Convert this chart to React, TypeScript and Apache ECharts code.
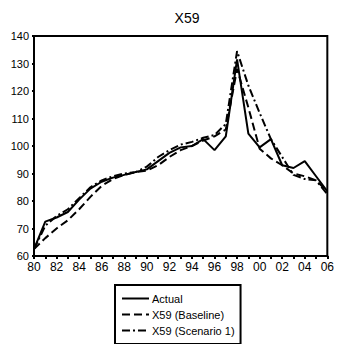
import React, { useEffect, useRef } from "react";
import * as echarts from "echarts";

const years = [
  "1980","1981","1982","1983","1984","1985","1986","1987","1988","1989",
  "1990","1991","1992","1993","1994","1995","1996","1997","1998","1999",
  "2000","2001","2002","2003","2004","2005","2006",
];
const actual = [
  62.5, 72.5, 74, 76, 80.5, 84.5, 87, 88.5, 89.5, 90.5,
  91.5, 94.5, 97.5, 99.5, 100, 102.5, 98.5, 103.5, 131.5, 104.5,
  99.5, 102.5, 93, 92, 94.5, 89, 83.5,
];
const baseline = [
  62.5, 66.5, 70, 73, 77, 81.5, 85.5, 88, 89.5, 90.5,
  91, 93, 96, 98.5, 100, 102, 103.5, 106, 128, 114,
  99, 95.5, 93, 90, 89, 87.5, 83.5,
];
const scenario = [
  62.5, 71, 74.5, 77, 81, 85, 87.5, 89, 90, 90.5,
  92.5, 96, 98.5, 100.5, 101.5, 103, 104, 108, 134.5, 122,
  112, 102.5, 96, 89.5, 88, 87.5, 82.5,
];
const seriesNames = ["Actual", "X59 (Baseline)", "X59 (Scenario 1)"];

export default function App() {
  const ref = useRef<HTMLDivElement>(null);
  useEffect(() => {
    document.body.style.margin = "0";
    if (!ref.current) return;
    const chart = echarts.init(ref.current, undefined, { renderer: "svg" });
    const font = "Liberation Sans, Arial, sans-serif";
    chart.setOption({
      animation: false,
      backgroundColor: "#fff",
      title: {
        text: "X59",
        left: 182,
        top: 6,
        textAlign: "center",
        textStyle: { fontFamily: font, fontSize: 14, fontWeight: "normal", color: "#000" },
      },
      grid: {
        left: 34,
        right: 6,
        top: 36,
        bottom: 88,
        show: true,
        borderColor: "#000",
        borderWidth: 2,
        backgroundColor: "transparent",
      },
      legend: {
        orient: "vertical",
        left: 115,
        top: 285,
        data: seriesNames,
        itemWidth: 27,
        itemHeight: 10,
        itemGap: 5,
        borderColor: "#000",
        borderWidth: 2,
        padding: [8, 6, 8, 6],
        itemStyle: { opacity: 0 },
        textStyle: { fontFamily: font, fontSize: 11, color: "#000", padding: [0, 0, 0, -2] },
      },
      xAxis: {
        type: "category",
        data: years,
        boundaryGap: false,
        axisLine: { lineStyle: { color: "#000", width: 2 } },
        axisTick: { interval: 0, length: 3, lineStyle: { color: "#000", width: 2 } },
        axisLabel: {
          interval: 1,
          margin: 5,
          fontFamily: font,
          fontSize: 12,
          color: "#000",
          formatter: (v: string) => v.slice(2),
        },
        splitLine: { show: false },
      },
      yAxis: {
        type: "value",
        min: 60,
        max: 140,
        interval: 10,
        axisLine: { show: true, lineStyle: { color: "#000", width: 2 } },
        axisTick: { show: true, length: 2, lineStyle: { color: "#000", width: 2 } },
        axisLabel: { margin: 5, fontFamily: font, fontSize: 11, color: "#000" },
        splitLine: { show: false },
      },
      series: [
        {
          name: seriesNames[0],
          type: "line",
          data: actual,
          symbol: "none",
          lineStyle: { color: "#000", width: 2, type: "solid" },
          itemStyle: { color: "#000" },
        },
        {
          name: seriesNames[1],
          type: "line",
          data: baseline,
          symbol: "none",
          lineStyle: { color: "#000", width: 2, type: [8, 4] },
          itemStyle: { color: "#000" },
        },
        {
          name: seriesNames[2],
          type: "line",
          data: scenario,
          symbol: "none",
          lineStyle: { color: "#000", width: 2, type: [8, 3, 2, 3] },
          itemStyle: { color: "#000" },
        },
      ],
    });
    return () => chart.dispose();
  }, []);
  return <div ref={ref} style={{ width: 337, height: 344 }} />;
}
